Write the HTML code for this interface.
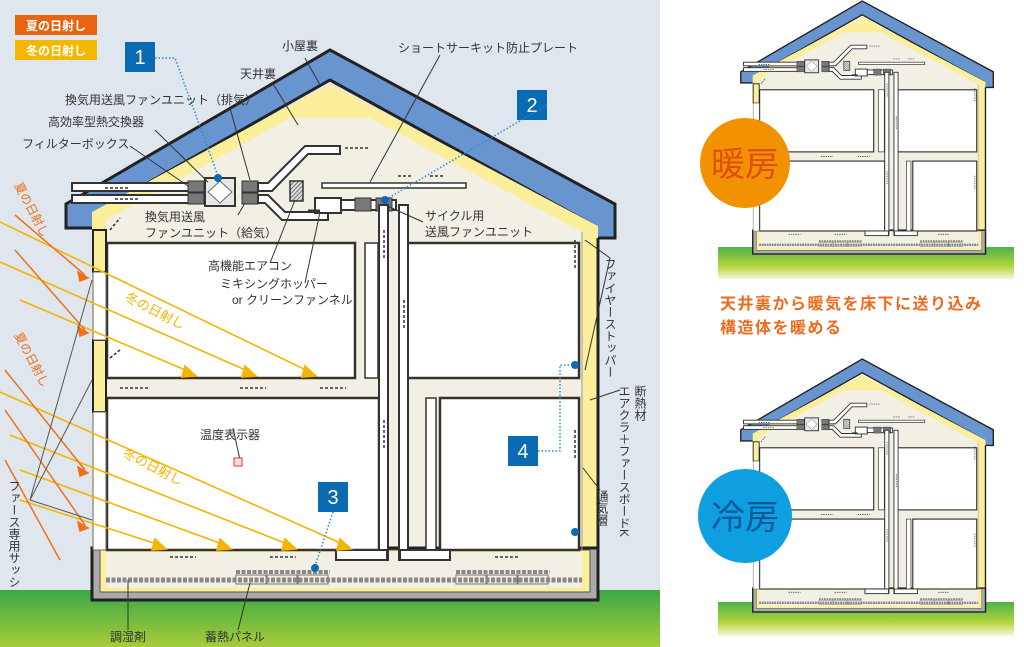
<!DOCTYPE html>
<html><head><meta charset="utf-8"><style>
html,body{margin:0;padding:0;background:#fff}
svg{display:block}
text{font-family:"Liberation Sans","Noto Sans CJK JP",sans-serif}
.l{font-size:12px;fill:#333}
.v{writing-mode:vertical-rl;font-size:12px;fill:#333}
</style></head><body>
<svg width="1024" height="647" viewBox="0 0 1024 647" xmlns="http://www.w3.org/2000/svg">
<defs>
<linearGradient id="gr" x1="0" y1="0" x2="0" y2="1"><stop offset="0" stop-color="#3aa846"/><stop offset="1" stop-color="#a7cc3a"/></linearGradient>
<linearGradient id="gr2" x1="0" y1="0" x2="0" y2="1"><stop offset="0" stop-color="#4db34a"/><stop offset="0.6" stop-color="#b5d43c"/><stop offset="1" stop-color="#f4f8e0"/></linearGradient>
<pattern id="hatch" width="3" height="3" patternUnits="userSpaceOnUse" patternTransform="rotate(45)"><rect width="3" height="3" fill="#ddd"/><line x1="0" y1="0" x2="0" y2="3" stroke="#555" stroke-width="1.5"/></pattern>
<g id="house">
 <!-- roof -->
 <polygon points="66,204 330,50 615,204 615,238 595,238 595,226 330,80 100,210 100,228 66,228" fill="#6895cf" stroke="#222" stroke-width="3"/>
 <!-- insulation -->
 <polygon points="92,212 330,84 598,226 598,550 92,550" fill="#fbef9b"/>
 <polygon points="106,220 290,118 370,118 582,232 582,550 106,550" fill="#f2efe4"/>
 <!-- outer walls -->
 <line x1="598" y1="238" x2="598" y2="600" stroke="#222" stroke-width="3"/>
 <rect x="92" y="548" width="506" height="52" fill="#aaa" stroke="#222" stroke-width="3"/>
 <rect x="100" y="550" width="490" height="42" fill="#fbef9b" stroke="#555" stroke-width="1"/>
 <rect x="106" y="552" width="476" height="36" fill="#f2efe4"/>
 <!-- rooms -->
 <rect x="107" y="243" width="248" height="135" fill="#fff" stroke="#3a302c" stroke-width="2.5"/>
 <rect x="407" y="243" width="172" height="135" fill="#fff" stroke="#3a302c" stroke-width="2.5"/>
 <rect x="365" y="243" width="13" height="135" fill="#fff" stroke="#3a302c" stroke-width="1.5"/>
 <rect x="107" y="398" width="272" height="152" fill="#fff" stroke="#3a302c" stroke-width="2.5"/>
 <rect x="440" y="398" width="139" height="152" fill="#fff" stroke="#3a302c" stroke-width="2.5"/>
 <rect x="426" y="398" width="10" height="152" fill="#fff" stroke="#3a302c" stroke-width="1.5"/>
 <!-- left wall -->
 <rect x="93" y="230" width="13" height="42" fill="#fbef9b" stroke="#222" stroke-width="2"/>
 <rect x="93" y="340" width="13" height="72" fill="#fbef9b" stroke="#222" stroke-width="2"/>
 <rect x="93" y="272" width="13" height="68" fill="#fff" stroke="#666" stroke-width="1"/>
 <rect x="93" y="412" width="13" height="138" fill="#fff" stroke="#666" stroke-width="1"/>
 <!-- right wall layers -->
 <line x1="582" y1="232" x2="582" y2="550" stroke="#999" stroke-width="1"/>
 <!-- supply ducts -->
 <rect x="72" y="183" width="118" height="8" fill="#fff" stroke="#333" stroke-width="2"/>
 <rect x="72" y="195" width="118" height="8" fill="#fff" stroke="#333" stroke-width="2"/>
 <rect x="188" y="181" width="16" height="11" fill="#777" stroke="#333"/>
 <rect x="188" y="193" width="16" height="11" fill="#777" stroke="#333"/>
 <rect x="205" y="178" width="30" height="28" fill="#e8e8e8" stroke="#333" stroke-width="2"/>
 <polygon points="220,181 232,192 220,203 208,192" fill="#fff" stroke="#666"/>
 <rect x="242" y="181" width="16" height="11" fill="#777" stroke="#333"/>
 <rect x="242" y="193" width="16" height="11" fill="#777" stroke="#333"/>
 <path d="M258,183 L268,183 L305,146 L340,146 L340,154 L308,154 L272,191 L258,191 Z" fill="#fff" stroke="#333" stroke-width="2"/>
 <path d="M258,195 L268,195 L285,212 L328,212 L328,220 L282,220 L265,203 L258,203 Z" fill="#fff" stroke="#333" stroke-width="2"/>
 <rect x="290" y="181" width="13" height="20" fill="url(#hatch)" stroke="#333" stroke-width="1.5"/>
 <rect x="322" y="183" width="144" height="5" fill="#fff" stroke="#333" stroke-width="1.5"/>
 <rect x="315" y="198" width="26" height="15" fill="#fff" stroke="#333" stroke-width="2"/>
 <line x1="308" y1="211" x2="320" y2="211" stroke="#333" stroke-width="3"/>
 <rect x="341" y="200" width="55" height="10" fill="#fff" stroke="#333" stroke-width="2"/>
 <rect x="355" y="198" width="16" height="13" fill="#777" stroke="#333"/>
 <rect x="376" y="198" width="16" height="13" fill="#777" stroke="#333"/>
 <!-- vertical ducts -->
 <rect x="379" y="205" width="9" height="355" fill="#fff" stroke="#333" stroke-width="2"/>
 <rect x="399" y="205" width="9" height="355" fill="#fff" stroke="#333" stroke-width="2"/>
 <rect x="336" y="550" width="51" height="10" fill="#fff" stroke="#333" stroke-width="2"/>
 <rect x="400" y="550" width="50" height="10" fill="#fff" stroke="#333" stroke-width="2"/>
 <!-- storage -->
 <g fill="#f4eedd" stroke="#777" stroke-width="1">
  <rect x="236" y="575" width="30" height="9"/><rect x="267" y="575" width="30" height="9"/><rect x="298" y="575" width="30" height="9"/>
  <rect x="456" y="575" width="30" height="9"/><rect x="487" y="575" width="30" height="9"/><rect x="518" y="575" width="30" height="9"/>
 </g>
 <line x1="106" y1="580" x2="582" y2="580" stroke="#888" stroke-width="5" stroke-dasharray="4 1.5"/>
 <line x1="236" y1="572" x2="330" y2="572" stroke="#888" stroke-width="4" stroke-dasharray="4 1.5"/>
 <line x1="456" y1="572" x2="550" y2="572" stroke="#888" stroke-width="4" stroke-dasharray="4 1.5"/>
 <!-- flow arrows -->
 <g stroke="#333" stroke-width="1.5" stroke-dasharray="3 2" fill="none">
  <line x1="120" y1="388" x2="150" y2="388"/><line x1="240" y1="388" x2="266" y2="388"/><line x1="320" y1="388" x2="346" y2="388"/>
  <line x1="170" y1="557" x2="196" y2="557"/><line x1="270" y1="557" x2="296" y2="557"/><line x1="495" y1="557" x2="520" y2="557"/>
  <line x1="345" y1="148" x2="368" y2="148"/><line x1="398" y1="176" x2="412" y2="176"/><line x1="430" y1="176" x2="445" y2="176"/>
  <line x1="105" y1="188" x2="130" y2="188"/><line x1="115" y1="199" x2="140" y2="199"/>
  <line x1="384" y1="230" x2="384" y2="260"/><line x1="384" y1="420" x2="384" y2="450"/><line x1="404" y1="300" x2="404" y2="330"/>
  <line x1="575" y1="240" x2="575" y2="270"/><line x1="575" y1="430" x2="575" y2="460"/>
  <line x1="110" y1="230" x2="120" y2="218"/><line x1="110" y1="358" x2="120" y2="350"/>
 </g>
</g>
</defs>

<!-- left panel background -->
<rect x="0" y="0" width="660" height="590" fill="#dfe6ed"/>
<rect x="0" y="590" width="660" height="57" fill="url(#gr)"/>

<!-- right thumbnails grounds -->
<rect x="718" y="247" width="296" height="32" fill="url(#gr2)"/>
<rect x="718" y="602" width="296" height="34" fill="url(#gr2)"/>

<use href="#house"/>
<use href="#house" transform="translate(710.4,-22) scale(0.46)"/>
<use href="#house" transform="translate(710.4,336) scale(0.46)"/>

<!-- sunlight (main) -->
<g stroke="#f5b400" stroke-width="1.6" fill="#f5b400">
 <line x1="0" y1="222" x2="310" y2="372"/><polygon points="305,366 316,376 302,377"/>
 <line x1="0" y1="262" x2="250" y2="372"/><polygon points="245,366 256,376 242,377"/>
 <line x1="20" y1="300" x2="190" y2="372"/><polygon points="185,366 196,376 182,377"/>
 <line x1="0" y1="392" x2="345" y2="545"/><polygon points="340,539 351,549 337,550"/>
 <line x1="10" y1="435" x2="290" y2="545"/><polygon points="285,539 296,549 282,550"/>
 <line x1="20" y1="470" x2="225" y2="545"/><polygon points="220,539 231,549 217,550"/>
 <line x1="20" y1="500" x2="160" y2="545"/><polygon points="155,539 166,549 152,550"/>
</g>
<g stroke="#ee7118" stroke-width="1.5" fill="#ee7118">
 <line x1="15" y1="215" x2="85" y2="275"/><line x1="15" y1="250" x2="85" y2="330"/>
 <line x1="5" y1="370" x2="85" y2="470"/><line x1="5" y1="410" x2="85" y2="525"/>
 <line x1="5" y1="460" x2="60" y2="560"/>
 <polygon points="78,272 88,278 80,281"/><polygon points="78,327 88,333 80,336"/>
 <polygon points="78,467 88,473 80,476"/><polygon points="78,522 88,528 80,531"/>
</g>
<g stroke="#555" stroke-width="1"><line x1="30" y1="500" x2="92" y2="280"/><line x1="30" y1="500" x2="92" y2="380"/><line x1="30" y1="500" x2="92" y2="520"/></g>

<!-- legend -->
<rect x="15" y="15" width="82" height="20" fill="#e8650f"/>
<text x="56" y="30" text-anchor="middle" style="font-size:12px;font-weight:bold;fill:#fff">夏の日射し</text>
<rect x="15" y="40" width="82" height="20" fill="#f5b800"/>
<text x="56" y="55" text-anchor="middle" style="font-size:12px;font-weight:bold;fill:#fff">冬の日射し</text>

<!-- number boxes -->
<g fill="#0a6bb3">
 <rect x="125" y="42" width="30" height="30"/><rect x="517" y="90" width="30" height="30"/>
 <rect x="318" y="482" width="30" height="30"/><rect x="508" y="436" width="30" height="30"/>
</g>
<g style="font-family:'Liberation Serif',serif;font-size:20px;fill:#fff" text-anchor="middle">
 <text x="140" y="64">1</text><text x="532" y="112">2</text><text x="333" y="504">3</text><text x="523" y="458">4</text>
</g>
<g stroke="#2a8ad6" stroke-width="1.5" stroke-dasharray="1.5 2" fill="none">
 <polyline points="155,58 175,58 218,176"/><polyline points="547,105 385,200"/>
 <polyline points="333,512 315,566"/><polyline points="538,451 560,451 560,365 574,365 M560,451 560,532 574,532"/>
</g>
<g fill="#0a6bb3"><circle cx="218" cy="178" r="4"/><circle cx="385" cy="200" r="4"/><circle cx="315" cy="568" r="4"/><circle cx="575" cy="365" r="4"/><circle cx="575" cy="532" r="4"/></g>

<!-- leader lines -->
<g stroke="#333" stroke-width="1">
 <line x1="305" y1="58" x2="320" y2="85"/><line x1="272" y1="82" x2="298" y2="125"/>
 <line x1="440" y1="55" x2="370" y2="182"/><line x1="230" y1="108" x2="250" y2="180"/>
 <line x1="155" y1="130" x2="208" y2="182"/><line x1="130" y1="146" x2="188" y2="186"/>
 <line x1="238" y1="215" x2="245" y2="203"/><line x1="270" y1="263" x2="295" y2="200"/>
 <line x1="305" y1="283" x2="320" y2="212"/><line x1="423" y1="222" x2="385" y2="205"/>
 <line x1="233" y1="428" x2="240" y2="460"/><line x1="128" y1="630" x2="128" y2="580"/>
 <line x1="238" y1="630" x2="250" y2="583"/><line x1="610" y1="258" x2="585" y2="240"/>
 <line x1="610" y1="258" x2="585" y2="370"/><line x1="620" y1="390" x2="590" y2="400"/>
 <line x1="600" y1="490" x2="583" y2="468"/>
</g>
<rect x="234" y="458" width="8" height="8" fill="#fbe0d8" stroke="#e33" stroke-width="1"/>

<!-- labels -->
<text class="l" x="282" y="50">小屋裏</text>
<text class="l" x="240" y="78">天井裏</text>
<text class="l" x="398" y="52">ショートサーキット防止プレート</text>
<text class="l" x="65" y="104">換気用送風ファンユニット（排気）</text>
<text class="l" x="48" y="126">高効率型熱交換器</text>
<text class="l" x="22" y="148">フィルターボックス</text>
<text class="l" x="145" y="221">換気用送風</text>
<text class="l" x="145" y="237">ファンユニット（給気）</text>
<text class="l" x="208" y="270">高機能エアコン</text>
<text class="l" x="220" y="288">ミキシングホッパー</text>
<text class="l" x="232" y="304">or クリーンファンネル</text>
<text class="l" x="425" y="220">サイクル用</text>
<text class="l" x="425" y="236">送風ファンユニット</text>
<text class="l" x="200" y="439">温度表示器</text>
<text class="l" x="110" y="641">調湿剤</text>
<text class="l" x="205" y="641">蓄熱パネル</text>
<text class="v" x="610" y="258">ファイヤーストッパー</text>
<text class="v" x="640" y="385">断熱材</text>
<text class="v" x="624" y="385">エアクラ＋ファースボードK</text>
<text class="v" x="602" y="490">通気層</text>
<text class="v" x="14" y="480">ファース専用サッシ</text>
<text transform="translate(14,185) rotate(62)" style="font-size:12px;fill:#ee7118">夏の日射し</text>
<text transform="translate(14,335) rotate(62)" style="font-size:12px;fill:#ee7118">夏の日射し</text>
<text transform="translate(124,300) rotate(27)" style="font-size:13px;fill:#f5b400">冬の日射し</text>
<text transform="translate(122,456) rotate(27)" style="font-size:13px;fill:#f5b400">冬の日射し</text>

<!-- right side circles & texts -->
<circle cx="745" cy="163" r="45" fill="#f39200"/>
<text x="745" y="176" text-anchor="middle" style="font-size:34px;fill:#e04e10">暖房</text>
<circle cx="745" cy="516" r="47" fill="#0f9ee0"/>
<text x="745" y="529" text-anchor="middle" style="font-size:34px;fill:#0a5a9a">冷房</text>
<text x="720" y="309" style="font-size:16px;font-weight:bold;fill:#ee6a1f;letter-spacing:1.5px">天井裏から暖気を床下に送り込み</text>
<text x="720" y="333" style="font-size:16px;font-weight:bold;fill:#ee6a1f;letter-spacing:1.5px">構造体を暖める</text>
</svg>
</body></html>
